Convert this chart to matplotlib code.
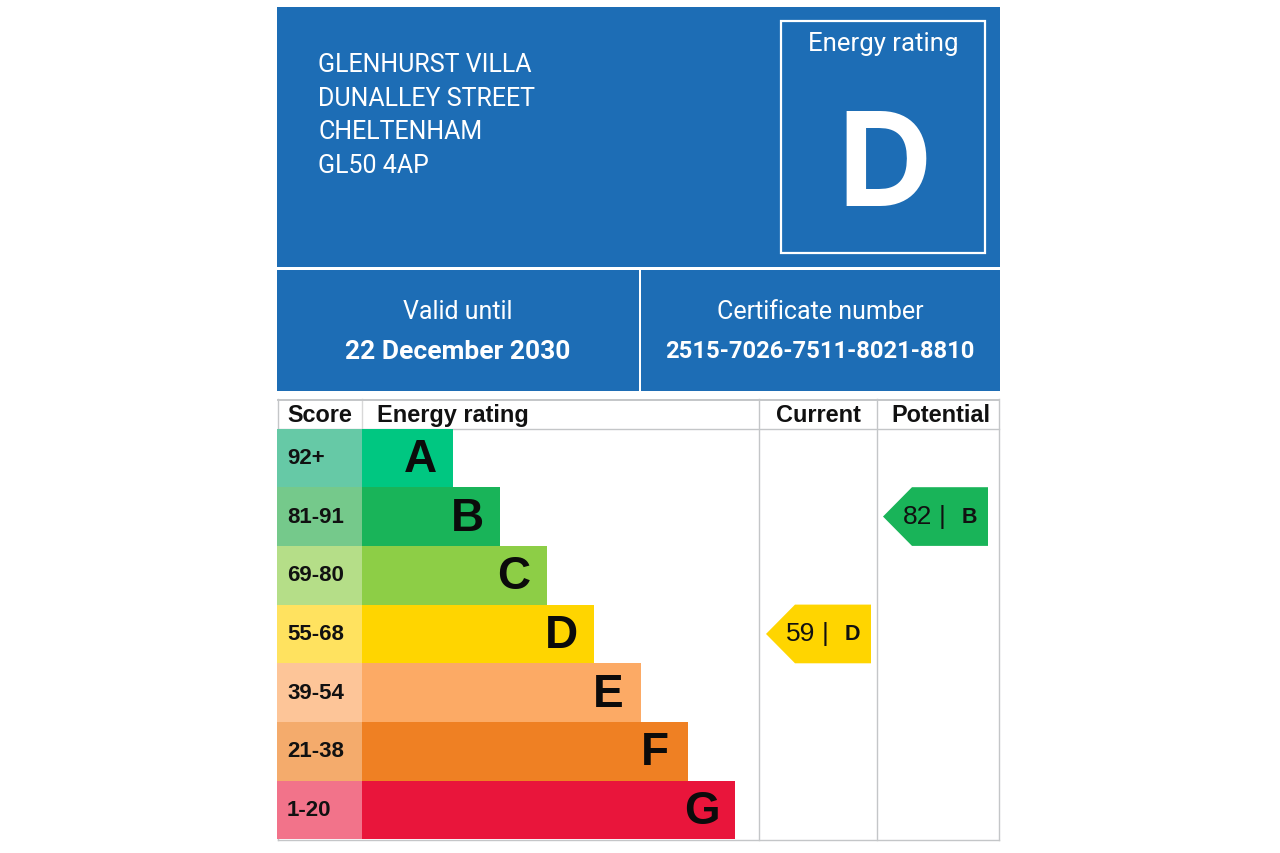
#!/usr/bin/env python
# Energy performance certificate: blue header panel above the rating chart
import matplotlib
matplotlib.use('Agg')
import matplotlib.pyplot as plt
from matplotlib.patches import Polygon, Rectangle

# data
address = ['GLENHURST VILLA', 'DUNALLEY STREET', 'CHELTENHAM', 'GL50 4AP']
rating_title = 'Energy rating'
overall_rating = 'D'
valid_label = 'Valid until'
valid_date = '22 December 2030'
cert_label = 'Certificate number'
cert_number = '2515-7026-7511-8021-8810'

headers = ['Score', 'Energy rating', 'Current', 'Potential']
letters = ['A', 'B', 'C', 'D', 'E', 'F', 'G']
score_bands = ['92+', '81-91', '69-80', '55-68', '39-54', '21-38', '1-20']
band_lengths = [91.5, 138.5, 185.5, 232.5, 279.5, 326.5, 373.5]
band_colours = ['#00c781', '#19b459', '#8dce46', '#ffd500', '#fcaa65', '#ef8023', '#e9153b']
score_colours = ['#66c9a6', '#75c98b', '#b5de88', '#ffe25f', '#fdc598', '#f4ab6c', '#f2738a']
current_score, current_letter = 59, 'D'
potential_score, potential_letter = 82, 'B'

BLUE = '#1d6db5'
GRID = '#c4c6c8'
HEAD_FONT = 'Roboto'
CHART_FONT = 'Liberation Sans'

fig = plt.figure(figsize=(12.8, 8.54), dpi=100)
ax = fig.add_axes([0, 0, 1, 1])
ax.set_xlim(0, 1280)
ax.set_ylim(853, -1)
ax.axis('off')

# header panels
ax.add_patch(Rectangle((277, 7), 723, 260, fc=BLUE, ec='none'))
ax.add_patch(Rectangle((277, 270), 362, 121, fc=BLUE, ec='none'))
ax.add_patch(Rectangle((641, 270), 359, 121, fc=BLUE, ec='none'))
ax.add_patch(Rectangle((781, 21), 204, 232, fc='none', ec='white', lw=1.6))

for i, line in enumerate(address):
    ax.text(318, 64 + i * 33.7, line, color='white', family=HEAD_FONT, fontsize=18,
            ha='left', va='center')
ax.text(883, 43, rating_title, color='white', family=HEAD_FONT, fontsize=18.5, ha='center', va='center')
ax.text(885, 157.5, overall_rating, color='white', family='Inter', fontsize=94, weight='bold',
        ha='center', va='center_baseline')
ax.text(458, 311, valid_label, color='white', family=HEAD_FONT, fontsize=18, ha='center', va='center')
ax.text(458, 351, valid_date, color='white', family=HEAD_FONT, fontsize=19, weight='bold',
        ha='center', va='center')
ax.text(820, 311, cert_label, color='white', family=HEAD_FONT, fontsize=18, ha='center', va='center')
ax.text(820, 351, cert_number, color='white', family=HEAD_FONT, fontsize=17.1, weight='bold',
        ha='center', va='center')

# table lines, kept under the bands
for x in [277.5, 759, 877, 999]:
    ax.plot([x, x], [399, 840], color=GRID, lw=1.0, zorder=0.5)
ax.plot([361.5, 361.5], [399, 428.5], color='#d8d8d8', lw=1.0, zorder=0.5)
ax.plot([277.5, 999], [399.5, 399.5], color=GRID, lw=1.4, zorder=0.5)
ax.plot([277.5, 999], [428.5, 428.5], color=GRID, lw=1.0, zorder=0.5)
ax.plot([277.5, 999], [840, 840], color=GRID, lw=1.0, zorder=0.5)

# rating bands
top = 428.5
row_h = 58.7
left = 361.5
for i in range(len(letters)):
    y = top + i * row_h
    ax.add_patch(Rectangle((277, y), left - 277, row_h, fc=score_colours[i], ec='none'))
    ax.add_patch(Rectangle((left, y), band_lengths[i], row_h, fc=band_colours[i], ec='none'))
    ax.text(287, y + row_h / 2 - 0.5, score_bands[i], color='#111111', family=CHART_FONT, weight='bold',
            fontsize=16, ha='left', va='center')
    ax.text(left + band_lengths[i] - 33, y + row_h / 2 + 1, letters[i], color='#0b0b0b', family=CHART_FONT,
            weight='bold', fontsize=33, ha='center', va='center')

header_x = [319.5, 453, 818, 941]
for label, x in zip(headers, header_x):
    ax.text(x, 414.5, label, color='#111111', family=CHART_FONT, weight='bold', fontsize=16.9,
            ha='center', va='center')


# current and potential arrows
def draw_arrow(tip, right, score, letter):
    row = letters.index(letter)
    y0 = top + row * row_h
    y1 = y0 + row_h
    ax.add_patch(Polygon([(tip, (y0 + y1) / 2), (tip + 29, y0), (right, y0), (right, y1), (tip + 29, y1)],
                         fc=band_colours[row], ec='none'))
    ax.text(tip + 20, (y0 + y1) / 2 - 0.5, str(score), color='#111111', family=CHART_FONT, fontsize=19,
            ha='left', va='center')
    ax.text(tip + 59, (y0 + y1) / 2 - 0.5, '|', color='#111111', family=CHART_FONT, fontsize=19,
            ha='center', va='center')
    ax.text(tip + 86, (y0 + y1) / 2, letter, color='#111111', family=CHART_FONT, weight='bold', fontsize=15.5,
            ha='center', va='center')


draw_arrow(766, 871, current_score, current_letter)
draw_arrow(883, 988, potential_score, potential_letter)

fig.savefig('out.png', dpi=100, facecolor='white')
